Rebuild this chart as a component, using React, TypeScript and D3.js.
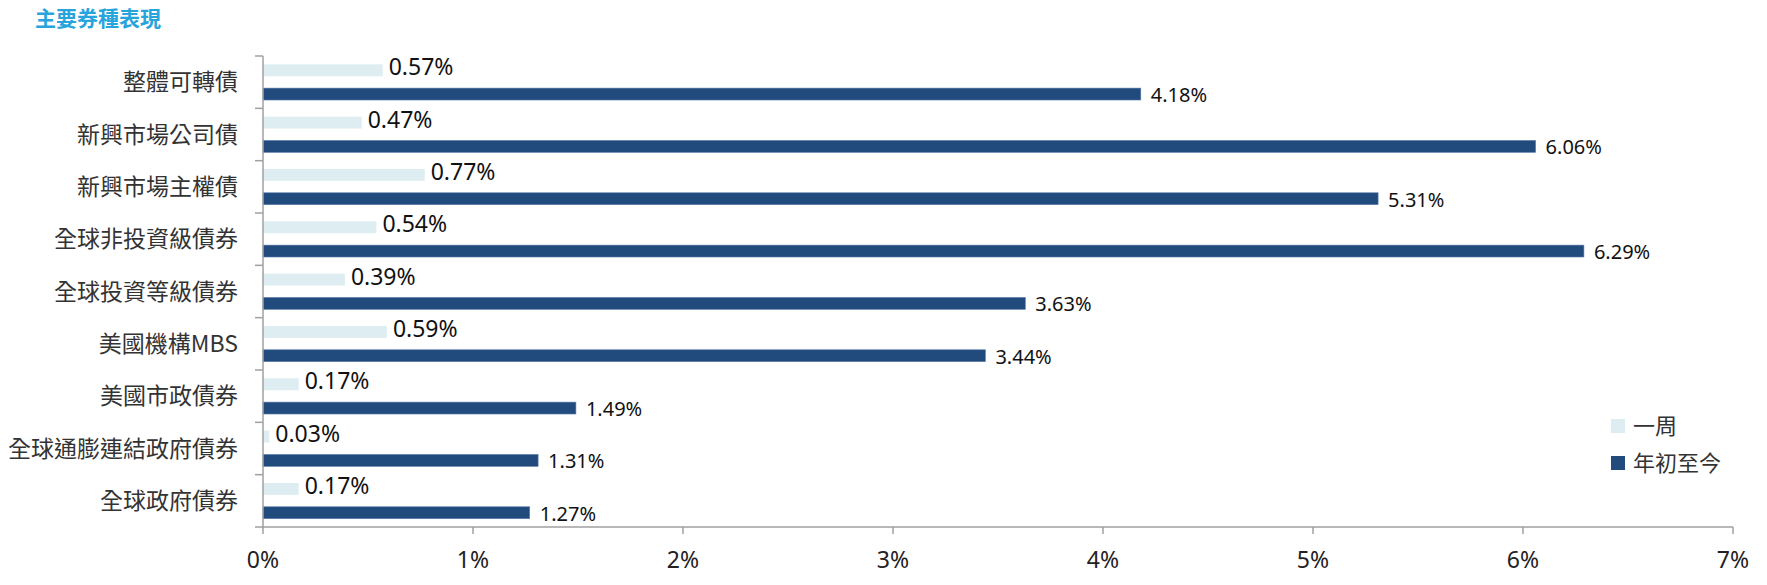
import React from "react";
import * as d3 from "d3";

const categories = [
  "整體可轉債",
  "新興市場公司債",
  "新興市場主權債",
  "全球非投資級債券",
  "全球投資等級債券",
  "美國機構MBS",
  "美國市政債券",
  "全球通膨連結政府債券",
  "全球政府債券",
];
const weekValues = [0.57, 0.47, 0.77, 0.54, 0.39, 0.59, 0.17, 0.03, 0.17];
const ytdValues = [4.18, 6.06, 5.31, 6.29, 3.63, 3.44, 1.49, 1.31, 1.27];
const seriesNames = ["一周", "年初至今"];
const xTicks = [0, 1, 2, 3, 4, 5, 6, 7];

const W = 1767;
const H = 585;
const margin = { top: 56, right: 34, bottom: 58, left: 263 };

const LIGHT = "#deedf1";
const DARK = "#214a7d";
const AXIS = "#a0a0a0";
const FONT = '"Noto Sans", "Noto Sans CJK TC", sans-serif';

export default function App() {
  const x = d3
    .scaleLinear()
    .domain([0, 7])
    .range([margin.left, W - margin.right]);

  const y = d3
    .scaleBand<string>()
    .domain(categories)
    .range([margin.top, H - margin.bottom])
    .padding(0);

  // two bars per category
  const sub = d3
    .scaleBand<string>()
    .domain(seriesNames)
    .range([0, y.step()])
    .paddingInner(0.5)
    .paddingOuter(0.35);

  const rows = categories.map((c, i) => ({
    cat: c,
    week: weekValues[i],
    ytd: ytdValues[i],
  }));

  const bottom = H - margin.bottom;
  const bh = sub.bandwidth();

  return (
    <svg
      width={W}
      height={H}
      style={{ position: "absolute", left: 0, top: 0, background: "#fff" }}
      fontFamily={FONT}
    >
      <text
        x={35}
        y={26}
        fontSize={21}
        fontWeight="bold"
        fill="#27a4dc"
        fontFamily='"Noto Sans CJK TC", sans-serif'
      >
        主要券種表現
      </text>

      {/* bars */}
      {rows.map((d) => {
        const y0 = y(d.cat)!;
        const yw = y0 + sub(seriesNames[0])!;
        const yy = y0 + sub(seriesNames[1])!;
        return (
          <g key={d.cat}>
            <rect x={x(0)} y={yw} width={x(d.week) - x(0)} height={bh} fill={LIGHT} />
            <rect
              x={x(0)}
              y={yy}
              width={x(d.ytd) - x(0)}
              height={bh}
              fill={DARK}
              stroke="#5a7dab"
              strokeWidth={0.6}
            />
            <text
              x={x(d.week) + 6}
              y={yw + bh / 2 - 3}
              dy="0.35em"
              fontSize={23}
              fill="#111"
            >
              {d.week.toFixed(2)}%
            </text>
            <text
              x={x(d.ytd) + 10}
              y={yy + bh / 2 + 1}
              dy="0.35em"
              fontSize={20}
              fill="#111"
            >
              {d.ytd.toFixed(2)}%
            </text>
          </g>
        );
      })}

      {/* category axis */}
      <line x1={x(0)} x2={x(0)} y1={margin.top} y2={bottom} stroke={AXIS} strokeWidth={1.5} />
      {categories.concat([""]).map((c, i) => {
        const yt = margin.top + i * y.step();
        return (
          <line key={"t" + i} x1={x(0) - 8} x2={x(0)} y1={yt} y2={yt} stroke={AXIS} strokeWidth={1.5} />
        );
      })}
      {categories.map((c) => (
        <text
          key={c}
          x={x(0) - 25}
          y={y(c)! + y.bandwidth() / 2}
          dy="0.35em"
          textAnchor="end"
          fontSize={23}
          fill="#333"
          fontFamily='"Noto Sans CJK TC", sans-serif'
        >
          {c}
        </text>
      ))}

      {/* value axis */}
      <line x1={x(0)} x2={x(7)} y1={bottom} y2={bottom} stroke={AXIS} strokeWidth={1.5} />
      {xTicks.map((t) => (
        <g key={t}>
          <line x1={x(t)} x2={x(t)} y1={bottom} y2={bottom + 7} stroke={AXIS} strokeWidth={1.5} />
          <text
            x={x(t)}
            y={bottom + 33}
            dy="0.35em"
            textAnchor="middle"
            fontSize={23}
            fill="#222"
          >
            {t}%
          </text>
        </g>
      ))}

      {/* legend */}
      {seriesNames.map((s, i) => (
        <g key={s} transform={`translate(1611, ${419 + i * 37})`}>
          <rect width={14} height={14} fill={i === 0 ? LIGHT : DARK} />
          <text
            x={22}
            y={7}
            dy="0.35em"
            fontSize={22}
            fill="#333"
            fontFamily='"Noto Sans CJK TC", sans-serif'
          >
            {s}
          </text>
        </g>
      ))}
    </svg>
  );
}
